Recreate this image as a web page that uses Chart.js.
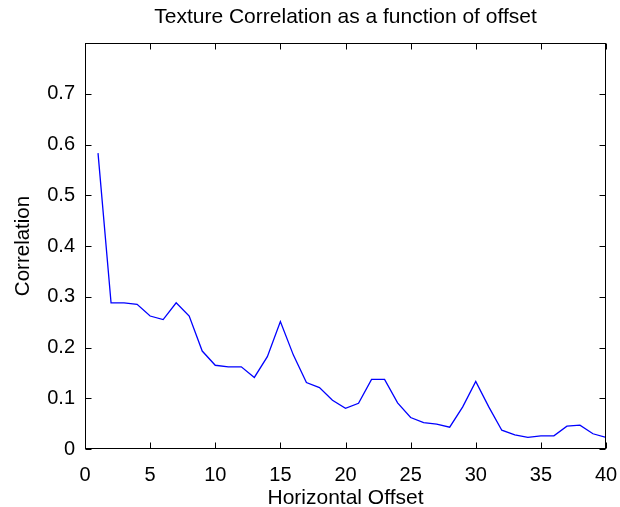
<!DOCTYPE html>
<html>
<head>
<meta charset="utf-8">
<title>Texture Correlation</title>
<script src="https://cdn.jsdelivr.net/npm/chart.js@4.4.1/dist/chart.umd.min.js"></script>
<style>
  html, body { margin: 0; padding: 0; background: #fff; }
  canvas { display: block; }
</style>
</head>
<body>
<canvas id="myChart" width="620" height="507"></canvas>
<script>
"use strict";

//data

const offsets = [1, 2, 3, 4, 5, 6, 7, 8, 9, 10,
                 11, 12, 13, 14, 15, 16, 17, 18, 19, 20,
                 21, 22, 23, 24, 25, 26, 27, 28, 29, 30,
                 31, 32, 33, 34, 35, 36, 37, 38, 39, 40];

const correlation = [0.583, 0.288, 0.288, 0.285, 0.262, 0.255, 0.288, 0.262, 0.193, 0.165,
                     0.162, 0.162, 0.141, 0.182, 0.251, 0.185, 0.131, 0.121, 0.096, 0.080,
                     0.090, 0.137, 0.137, 0.091, 0.062, 0.052, 0.049, 0.043, 0.083, 0.133,
                     0.083, 0.037, 0.028, 0.023, 0.026, 0.026, 0.045, 0.047, 0.030, 0.023];

const xTicks = [0, 5, 10, 15, 20, 25, 30, 35, 40];
const yTicks = [0, 0.1, 0.2, 0.3, 0.4, 0.5, 0.6, 0.7];

const fontFamily = '"Liberation Sans", Arial, Helvetica, sans-serif';
const tickLen = 6;

//no extra margins from edge labels, the plot box is sized by hand
const noMargins = scale => {
    scale.paddingLeft = 0;
    scale.paddingRight = 0;
    scale.paddingTop = 0;
    scale.paddingBottom = 0;
};

//box around the plot with inward tick marks on all four sides
const frame = {
    id: 'frame',
    afterDatasetsDraw(chart) {
        const {ctx, chartArea: a, scales: {x, y}} = chart;
        const l = Math.round(a.left) + 0.5, r = Math.round(a.right) - 0.5;
        const t = Math.round(a.top) + 0.5, b = Math.round(a.bottom) - 0.5;
        ctx.save();
        ctx.strokeStyle = '#000';
        ctx.lineWidth = 1;
        ctx.beginPath();
        x.ticks.forEach(tk => {
            const px = Math.round(x.getPixelForValue(tk.value)) + 0.5;
            ctx.moveTo(px, b); ctx.lineTo(px, b - tickLen);
            ctx.moveTo(px, t); ctx.lineTo(px, t + tickLen);
        });
        y.ticks.forEach(tk => {
            const py = Math.round(y.getPixelForValue(tk.value)) + 0.5;
            ctx.moveTo(l, py); ctx.lineTo(l + tickLen, py);
            ctx.moveTo(r, py); ctx.lineTo(r - tickLen, py);
        });
        ctx.stroke();
        ctx.strokeRect(l, t, r - l, b - t);
        ctx.restore();
    }
};

const data = {
    datasets: [{
        label: 'correlation',
        data: offsets.map((o, i) => ({x: o, y: correlation[i]})),
        borderColor: '#0000ff',
        borderWidth: 1.3,
        pointRadius: 0,
        tension: 0,
        fill: false
    }]
};

const config = {
    type: 'line',
    data,
    options: {
        responsive: false,
        animation: false,
        layout: {
            padding: {left: 0, right: 14, top: 0, bottom: 0}
        },
        scales: {
            x: {
                type: 'linear',
                min: 0,
                max: 40,
                afterBuildTicks: scale => { scale.ticks = xTicks.map(v => ({value: v})); },
                afterFit: scale => { scale.height = 58; noMargins(scale); },
                grid: {display: false, drawTicks: false},
                border: {display: false},
                ticks: {
                    padding: 14,
                    color: '#000',
                    font: {family: fontFamily, size: 20},
                    maxRotation: 0
                },
                title: {
                    display: true,
                    text: 'Horizontal Offset',
                    color: '#000',
                    font: {family: fontFamily, size: 21, lineHeight: 0.8},
                    padding: {top: 0, bottom: 0}
                }
            },
            //top axis only carries the chart title, centred over the plot
            top: {
                type: 'linear',
                position: 'top',
                min: 0,
                max: 40,
                afterFit: scale => { scale.height = 43; noMargins(scale); },
                grid: {display: false, drawTicks: false},
                border: {display: false},
                ticks: {display: false},
                title: {
                    display: true,
                    text: 'Texture Correlation as a function of offset',
                    color: '#000',
                    font: {family: fontFamily, size: 21, lineHeight: 1.2},
                    padding: {top: 5, bottom: 0}
                }
            },
            y: {
                type: 'linear',
                min: 0,
                max: 0.8,
                afterBuildTicks: scale => { scale.ticks = yTicks.map(v => ({value: v})); },
                afterFit: scale => { scale.width = 85; noMargins(scale); },
                grid: {display: false, drawTicks: false},
                border: {display: false},
                ticks: {
                    padding: 10,
                    color: '#000',
                    font: {family: fontFamily, size: 20},
                    callback: value => String(Math.round(value * 10) / 10)
                },
                title: {
                    display: true,
                    text: 'Correlation',
                    color: '#000',
                    font: {family: fontFamily, size: 20.5, lineHeight: 1.2},
                    padding: {top: 11, bottom: 0}
                }
            }
        },
        plugins: {
            legend: {display: false},
            tooltip: {enabled: false},
            title: {display: false}
        }
    },
    plugins: [frame]
};

//render
const myChart = new Chart(document.getElementById('myChart'), config);
</script>
</body>
</html>
